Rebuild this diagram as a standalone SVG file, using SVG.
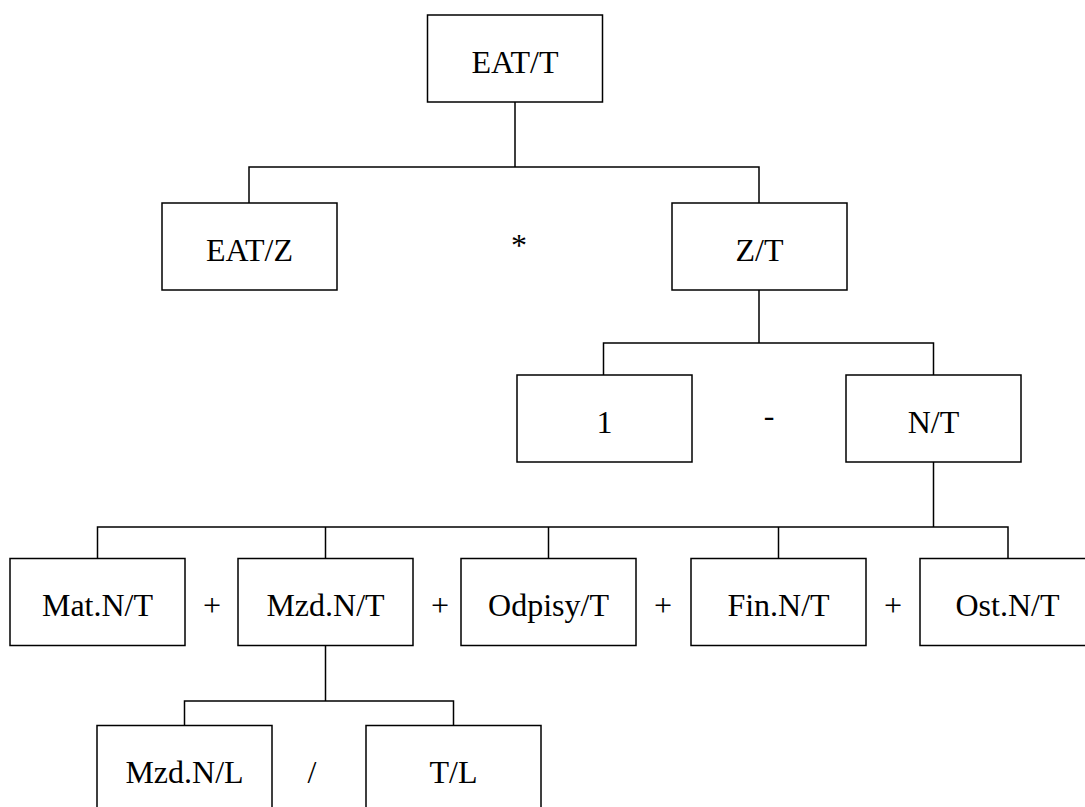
<svg xmlns="http://www.w3.org/2000/svg" width="1085" height="807" viewBox="0 0 1085 807">
<style>
.box{fill:#fff;stroke:#000;stroke-width:1.5}
.lbl{font-family:"Liberation Serif",Tinos,Times,"Times New Roman","Nimbus Roman","Noto Serif","DejaVu Serif",FreeSerif,serif;font-size:32px;fill:#000;text-anchor:middle}
.ln{fill:none;stroke:#000;stroke-width:1.5}
</style>
<rect width="1085" height="807" fill="#fff"/>
<g id="connectors">
<path class="ln" d="M515,102 V167 M249,203 V167 H759 V203"/>
<path class="ln" d="M759,290 V343 M603.5,375 V343 H933.5 V375"/>
<path class="ln" d="M933.5,462 V527 M97.5,558.5 V527 H1008 V558.5 M325.5,527 V558.5 M548.5,527 V558.5 M778.5,527 V558.5"/>
<path class="ln" d="M325.5,645.5 V701 M184.5,725.5 V701 H453.5 V725.5"/>
</g>
<g id="n-eat-t"><rect class="box" x="427.5" y="15" width="175" height="87"/><text class="lbl" x="515" y="72.5">EAT/T</text></g>
<g id="n-eat-z"><rect class="box" x="162" y="203" width="175" height="87"/><text class="lbl" x="249.5" y="260.5">EAT/Z</text></g>
<g id="op-mul"><text class="lbl" x="519" y="256">*</text></g>
<g id="n-z-t"><rect class="box" x="672" y="203" width="175" height="87"/><text class="lbl" x="759.5" y="260.5">Z/T</text></g>
<g id="n-one"><rect class="box" x="517" y="375" width="175" height="87"/><text class="lbl" x="604.5" y="432.5">1</text></g>
<g id="op-minus"><text class="lbl" x="769" y="425.5">-</text></g>
<g id="n-n-t"><rect class="box" x="846" y="375" width="175" height="87"/><text class="lbl" x="933.5" y="432.5">N/T</text></g>
<g id="n-mat"><rect class="box" x="10" y="558.5" width="175" height="87"/><text class="lbl" x="97.5" y="616">Mat.N/T</text></g>
<g id="op-p1"><text class="lbl" x="212" y="616">+</text></g>
<g id="n-mzd"><rect class="box" x="238" y="558.5" width="175" height="87"/><text class="lbl" x="325.5" y="616">Mzd.N/T</text></g>
<g id="op-p2"><text class="lbl" x="440" y="616">+</text></g>
<g id="n-odpisy"><rect class="box" x="461" y="558.5" width="175" height="87"/><text class="lbl" x="548.5" y="616">Odpisy/T</text></g>
<g id="op-p3"><text class="lbl" x="663" y="616">+</text></g>
<g id="n-fin"><rect class="box" x="691" y="558.5" width="175" height="87"/><text class="lbl" x="778.5" y="616">Fin.N/T</text></g>
<g id="op-p4"><text class="lbl" x="893" y="616">+</text></g>
<g id="n-ost"><rect class="box" x="920" y="558.5" width="175" height="87"/><text class="lbl" x="1007.5" y="616">Ost.N/T</text></g>
<g id="n-mzd-l"><rect class="box" x="97" y="725.5" width="175" height="87"/><text class="lbl" x="184.5" y="783">Mzd.N/L</text></g>
<g id="op-div"><text class="lbl" x="312" y="783">/</text></g>
<g id="n-t-l"><rect class="box" x="366" y="725.5" width="175" height="87"/><text class="lbl" x="453.5" y="783">T/L</text></g>
</svg>
